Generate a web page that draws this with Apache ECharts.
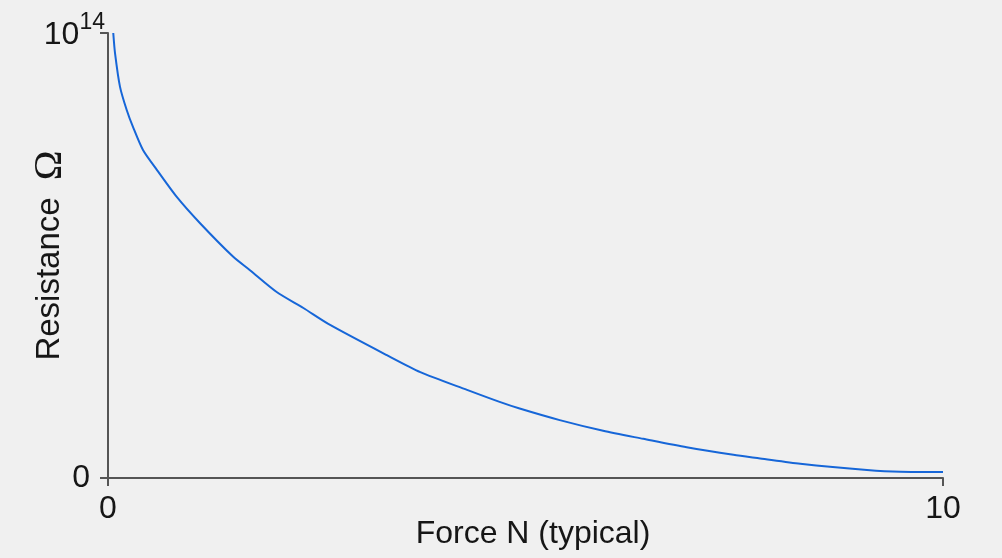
<!DOCTYPE html>
<html>
<head>
<meta charset="utf-8">
<script src="https://cdn.jsdelivr.net/npm/echarts@6/dist/echarts.min.js"></script>
<style>
html,body{margin:0;padding:0;background:#f0f0f0;}
#c{width:1002px;height:558px;}
</style>
</head>
<body>
<div id="c"></div>
<script>
// Force in newtons (typical)
const forceN = [0.063, 0.084, 0.144, 0.224, 0.299, 0.419, 0.587, 0.826, 1.10, 1.50, 1.70, 2.02, 2.34, 2.66, 3.34, 3.74, 4.30, 4.69, 4.93, 5.41, 5.93, 6.41, 6.93, 7.49, 7.81, 8.29, 9.09, 9.49, 10.0];
// Resistance in ohms
const resistanceOhm = [1.0e14, 95.5e12, 87.9e12, 82.7e12, 78.9e12, 73.7e12, 69.2e12, 63.1e12, 57.3e12, 49.7e12, 46.7e12, 41.8e12, 38.2e12, 34.4e12, 27.6e12, 23.8e12, 19.8e12, 17.1e12, 15.6e12, 13.0e12, 10.6e12, 8.8e12, 6.9e12, 5.2e12, 4.4e12, 3.2e12, 1.8e12, 1.4e12, 1.35e12];
const xTicks = [0, 10];
const yTicks = [0, 1e14];
const xName = 'Force N (typical)';
const yName = 'Resistance';
const yUnit = 'Ω';

const font = '"Liberation Sans", Arial, sans-serif';
const textColor = '#161616';
const axisColor = '#555555';

const chart = echarts.init(document.getElementById('c'), null, {renderer: 'canvas'});
chart.setOption({
  backgroundColor: '#f0f0f0',
  animation: false,
  grid: {left: 108, right: 59, top: 33, bottom: 80, containLabel: false, outerBoundsMode: 'none'},
  xAxis: {
    type: 'value',
    min: xTicks[0], max: xTicks[xTicks.length - 1], interval: xTicks[1] - xTicks[0],
    name: xName, nameLocation: 'middle', nameGap: 40, nameMoveOverlap: false,
    nameTextStyle: {fontFamily: font, fontSize: 32, color: textColor, padding: [0, 0, 0, 15]},
    axisLine: {lineStyle: {color: axisColor, width: 2}},
    axisTick: {show: true, length: 8, lineStyle: {color: axisColor, width: 2}},
    axisLabel: {fontFamily: font, fontSize: 32, color: textColor, margin: 15, showMinLabel: true, showMaxLabel: true},
    splitLine: {show: false}
  },
  yAxis: {
    type: 'value',
    min: yTicks[0], max: yTicks[yTicks.length - 1], interval: yTicks[1] - yTicks[0],
    name: '{r|' + yName + ' }{o|' + yUnit + '}', nameLocation: 'middle', nameGap: 38, nameRotate: 90, nameMoveOverlap: false,
    nameTextStyle: {
      rich: {
        r: {fontFamily: font, fontSize: 33, color: textColor, lineHeight: 40},
        o: {fontFamily: '"Liberation Serif", "Times New Roman", serif', fontSize: 40, color: textColor, lineHeight: 40, padding: [0, 0, 0, 8]}
      }
    },
    axisLine: {show: true, lineStyle: {color: axisColor, width: 2}},
    axisTick: {show: true, length: 8, lineStyle: {color: axisColor, width: 2}},
    axisLabel: {
      margin: 3, showMinLabel: true, showMaxLabel: true,
      formatter: function (v) {
        if (v === 0) return '{z|0}';
        const exp = Math.round(Math.log10(v));
        return '{a|10}{s|' + exp + '}';
      },
      rich: {
        z: {fontFamily: font, fontSize: 32, color: textColor, padding: [0, 15, 0, 0]},
        a: {fontFamily: font, fontSize: 32, color: textColor, lineHeight: 44, verticalAlign: 'middle', padding: [4, 0, 0, 0]},
        s: {fontFamily: font, fontSize: 23, color: textColor, lineHeight: 22, verticalAlign: 'top'}
      }
    },
    splitLine: {show: false}
  },
  series: [{
    type: 'line',
    data: forceN.map((f, i) => [f, resistanceOhm[i]]),
    smooth: 0.25,
    showSymbol: false,
    lineStyle: {color: '#1666d8', width: 2},
    clip: true
  }]
});
</script>
</body>
</html>
